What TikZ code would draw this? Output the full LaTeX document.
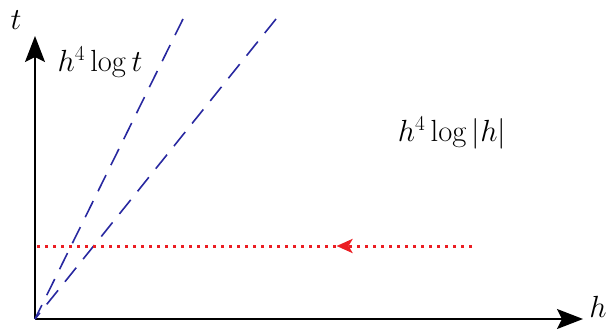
\documentclass[tikz,border=0pt]{standalone}
\usetikzlibrary{arrows.meta,decorations.markings}
\definecolor{dashblue}{RGB}{40,40,160}
\definecolor{dotred}{RGB}{235,30,35}
\newcommand{\bigtxt}[1]{\scalebox{1.23}{\fontsize{25}{30}\selectfont #1}}
\begin{document}
\begin{tikzpicture}[x=1pt,y=-1pt,
  axis/.style={line width=1.5pt,-{Stealth[length=26pt,width=20pt,inset=5pt]}},
  ray/.style={dashblue,line width=1.6pt,dash pattern=on 18pt off 11pt},
  flow/.style={dotred,line width=3pt,dash pattern=on 3.5pt off 4.5pt,
    postaction={decorate},decoration={markings,mark=at position 0.31 with {\arrow{Stealth[length=16pt,width=14pt,inset=4pt]}}}},
  lbl/.style={inner sep=0pt}]
\useasboundingbox (0,0) rectangle (609,329);
\coordinate (O) at (35,319);
\coordinate (xend) at (583,319);
\coordinate (yend) at (35,36);
\coordinate (r1) at (183,19);
\coordinate (r2) at (276,19);
\coordinate (fs) at (472,246);
\coordinate (fe) at (35,246);
\draw[axis] (O) -- (xend);
\draw[axis] (O) -- (yend);
\draw[ray] (r1) -- (O);
\draw[ray] (r2) -- (O);
\draw[flow] (fs) -- (fe);
\node[lbl] (tl) at (16,20) {\bigtxt{$t$}};
\node[lbl] (hl) at (598,307) {\bigtxt{$h$}};
\node[lbl] (f1) at (100,62) {\bigtxt{$h^4\log t$}};
\node[lbl] (f2) at (452,133) {\bigtxt{$h^4\log|h|$}};
\end{tikzpicture}
\end{document}
